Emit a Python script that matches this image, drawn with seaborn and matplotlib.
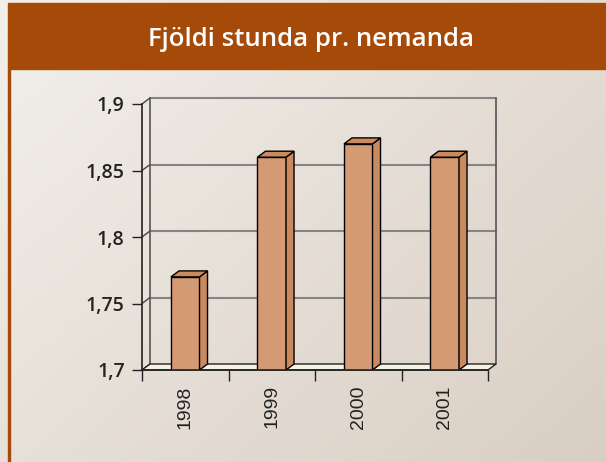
import numpy as np
import matplotlib
matplotlib.use("Agg")
import matplotlib.pyplot as plt
from matplotlib.patches import Rectangle, Polygon
import seaborn as sns

# data
years = ["1998", "1999", "2000", "2001"]
hours = [1.77, 1.86, 1.87, 1.86]
y_ticks = [1.7, 1.75, 1.8, 1.85, 1.9]
y_labels = ["1,7", "1,75", "1,8", "1,85", "1,9"]
title = "Fjöldi stunda pr. nemanda"

brown = "#A64A0A"
bar_front = "#D49A73"
bar_side = "#C98A60"
bar_top = "#CC8B5F"
grid_grey = "#858585"

sns.set_style("ticks")
plt.rcParams["font.family"] = ["Open Sans", "DejaVu Sans"]

W, H = 606, 462
fig = plt.figure(figsize=(W / 100, H / 100), dpi=100)

# soft paper-like background
bg = fig.add_axes([0, 0, 1, 1], zorder=-10)
gx, gy = np.meshgrid(np.linspace(0, 1, 200), np.linspace(0, 1, 150))
shade = 0.55 * gx + 0.45 * gy
light = np.array([243, 240, 235]) / 255
dark = np.array([217, 206, 195]) / 255
img = light[None, None, :] * (1 - shade[..., None]) + dark[None, None, :] * shade[..., None]
bg.imshow(img, aspect="auto", extent=[0, 1, 0, 1], origin="upper")
bg.axis("off")

# title bar and left border
fig.patches.append(Rectangle((8 / W, 1 - 69 / H), (W - 8) / W, 66 / H,
                             transform=fig.transFigure, color=brown, zorder=-5))
fig.patches.append(Rectangle((8 / W, 0), 2 / W, 1 - 69 / H,
                             transform=fig.transFigure, color=brown, zorder=-5))
fig.text(311 / W, 1 - 40 / H, title, color="white", fontsize=18.5,
         fontweight="semibold", ha="center", va="center")

ax = fig.add_axes([142 / W, 92 / H, 346 / W, 266 / H])
ax.set_facecolor("none")

sns.barplot(x=years, y=hours, color=bar_front, saturation=1, edgecolor="black",
            linewidth=1, width=0.33, ax=ax, zorder=3)

ax.set_xlim(-0.5, 3.5)
ax.set_ylim(1.7, 1.9)

# depth offset of the fake 3d look (8 px right, 6 px up)
dx = 8 * 4 / 346
dy = 6 * 0.2 / 266
x0, x1 = -0.5, 3.5
ymin, ymax = 1.7, 1.9

# back wall
for y in y_ticks[1:]:
    ax.plot([x0 + dx, x1 + dx], [y + dy, y + dy], color=grid_grey, lw=1.5,
            clip_on=False, zorder=1)
for y in y_ticks:
    ax.plot([x0, x0 + dx], [y, y + dy], color="#444444", lw=1, clip_on=False, zorder=1)
ax.plot([x0 + dx, x0 + dx], [ymin + dy, ymax + dy], color="#555555", lw=1.2,
        clip_on=False, zorder=1)
ax.plot([x1 + dx, x1 + dx], [ymin + dy, ymax + dy], color="#555555", lw=1.2,
        clip_on=False, zorder=1)

# floor
ax.add_patch(Polygon([(x0, ymin), (x1, ymin), (x1 + dx, ymin + dy), (x0 + dx, ymin + dy)],
                     closed=True, facecolor="#F6F2E4", edgecolor="#222222", lw=1,
                     clip_on=False, zorder=2))

# sides and tops of the bars
for p in list(ax.patches):
    if not isinstance(p, Rectangle):
        continue
    bx, bw, top = p.get_x(), p.get_width(), p.get_height()
    side = [(bx + bw, ymin), (bx + bw, top), (bx + bw + dx, top + dy), (bx + bw + dx, ymin + dy)]
    cap = [(bx, top), (bx + bw, top), (bx + bw + dx, top + dy), (bx + dx, top + dy)]
    ax.add_patch(Polygon(side, closed=True, facecolor=bar_side, edgecolor="black",
                         lw=1, clip_on=False, zorder=3))
    ax.add_patch(Polygon(cap, closed=True, facecolor=bar_top, edgecolor="black",
                         lw=1, clip_on=False, zorder=3))

for s in ["top", "right"]:
    ax.spines[s].set_visible(False)
for s in ["left", "bottom"]:
    ax.spines[s].set_color("#222222")
    ax.spines[s].set_linewidth(1.2)
    ax.spines[s].set_zorder(4)

ax.set_yticks(y_ticks, y_labels, fontweight="semibold")
ax.tick_params(axis="y", length=7.5, width=1, pad=5, labelsize=14, colors="#222222")
ax.set_xticks(range(len(years)), years, rotation=90,
              family=["Liberation Sans", "DejaVu Sans"])
ax.tick_params(axis="x", which="major", length=0, pad=11, labelsize=14,
               labelcolor="#222222")
ax.set_xticks([-0.5, 0.5, 1.5, 2.5, 3.5], minor=True)
ax.tick_params(axis="x", which="minor", length=8, width=1, color="#222222")
ax.set_xlabel("")
ax.set_ylabel("")

fig.savefig("out.png", dpi=100)
